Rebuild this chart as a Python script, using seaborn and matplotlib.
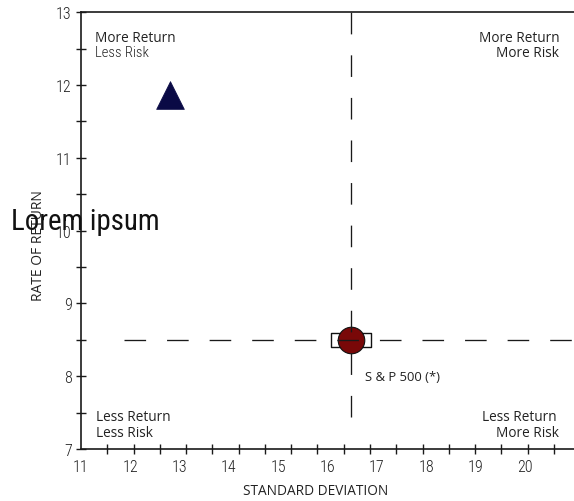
import numpy as np
import pandas as pd
import matplotlib
matplotlib.use("Agg")
import matplotlib.pyplot as plt
from matplotlib.path import Path
import seaborn as sns

# ---- data ----
fund_names = ["Fund"]
fund_risk = [12.8]
fund_return = [11.87]

index_names = ["S & P 500 (*)"]
index_risk = [16.47]
index_return = [8.5]

x_tick_values = [11, 12, 13, 14, 15, 16, 17, 18, 19, 20]
x_tick_labels = ["11", "12", "13", "14", "15", "16", "17", "18", "19", "20"]
y_tick_values = [7, 8, 9, 10, 11, 12, 13]
y_tick_labels = ["7", "8", "9", "10", "11", "12", "13"]

sns.set_style("white")
SANS = ["Open Sans", "DejaVu Sans"]
COND = ["Roboto Condensed", "DejaVu Sans"]
plt.rcParams["font.family"] = SANS
plt.rcParams["lines.scale_dashes"] = False

W, H = 574, 502
fig = plt.figure(figsize=(W / 100, H / 100), dpi=100)
ax_l, ax_r, ax_t, ax_b = 81, 574, 13.3, 450
ax = fig.add_axes([ax_l / W, 1 - ax_b / H, (ax_r - ax_l) / W, (ax_b - ax_t) / H])

def fx(px):
    return px / W

def fy(py):
    return 1 - py / H

fund_df = pd.DataFrame({"name": fund_names, "risk": fund_risk, "ret": fund_return})
index_df = pd.DataFrame({"name": index_names, "risk": index_risk, "ret": index_return})

# rectangle marker behind S&P point
rect = Path([(-1.45, -0.5), (1.45, -0.5), (1.45, 0.5), (-1.45, 0.5), (-1.45, -0.5)],
            [Path.MOVETO, Path.LINETO, Path.LINETO, Path.LINETO, Path.CLOSEPOLY])
sns.scatterplot(data=index_df, x="risk", y="ret", marker=rect, s=840, color="white",
                edgecolor="#111111", linewidth=1.0, ax=ax, zorder=2, legend=False)
sns.scatterplot(data=index_df, x="risk", y="ret", marker="o", s=365, color="#790808",
                edgecolor="#111111", linewidth=0.8, ax=ax, zorder=3, legend=False)
sns.scatterplot(data=fund_df, x="risk", y="ret", marker="^", s=400, color="#0a0a45",
                edgecolor="#0a0a45", linewidth=0.5, ax=ax, zorder=3, legend=False)

dash = (0, (15.55, 15.1))
ax.axvline(index_risk[0], ymin=(ax_b - 418) / (ax_b - ax_t), ymax=1, color="#1a1a1a",
           lw=0.95, linestyle=dash, zorder=4)
ax.axhline(index_return[0], xmin=(124 - ax_l) / (ax_r - ax_l), xmax=1, color="#1a1a1a",
           lw=0.95, linestyle=dash, zorder=4)

ax.set_xlim(11, 21)
ax.set_ylim(7, 13)

for s in ["left", "bottom", "top"]:
    ax.spines[s].set_visible(True)
    ax.spines[s].set_linewidth(1.2)
    ax.spines[s].set_color("#1a1a1a")
ax.spines["right"].set_visible(False)

ax.set_xticks(x_tick_values)
ax.set_xticklabels(x_tick_labels, fontfamily=COND, fontsize=11.5, fontweight="light",
                   color="#222222")
ax.set_xticks([11 + k * 0.533 for k in range(19)], minor=True)
ax.set_yticks(y_tick_values)
ax.set_yticklabels(y_tick_labels, fontfamily=COND, fontsize=11.5, fontweight="light",
                   color="#222222")
ax.set_yticks([v + 0.5 for v in y_tick_values[:-1]], minor=True)
ax.tick_params(axis="x", which="major", length=0, pad=7)
ax.tick_params(axis="x", which="minor", direction="inout", length=7.5, width=1.0,
               color="#1a1a1a", bottom=True)
ax.tick_params(axis="y", which="both", direction="inout", length=7.5, width=1.0,
               color="#1a1a1a", pad=3, left=True)

ax.set_xlabel("")
ax.set_ylabel("")
tc = "#222222"
fig.text(fx(316), fy(495), "STANDARD DEVIATION", ha="center", va="baseline",
         fontsize=9.8, color=tc)
fig.text(fx(39), fy(246), "RATE OF RETURN", ha="center", va="center", rotation=90,
         fontsize=10.0, color=tc)

fs_q = 9.8
# quadrant labels
fig.text(fx(95), fy(42.3), "More Return", ha="left", va="baseline", fontsize=fs_q, color=tc)
fig.text(fx(95), fy(56.7), "Less Risk", ha="left", va="baseline", fontsize=10.5,
         fontfamily=COND, fontweight="light", color=tc)
fig.text(fx(560), fy(42), "More Return", ha="right", va="baseline", fontsize=fs_q, color=tc)
fig.text(fx(559), fy(57.3), "More Risk", ha="right", va="baseline", fontsize=fs_q, color=tc)
fig.text(fx(95.5), fy(420.7), "Less Return", ha="left", va="baseline", fontsize=fs_q, color=tc)
fig.text(fx(95.5), fy(436.7), "Less Risk", ha="left", va="baseline", fontsize=fs_q, color=tc)
fig.text(fx(557), fy(420.7), "Less Return", ha="right", va="baseline", fontsize=fs_q, color=tc)
fig.text(fx(559), fy(436.7), "More Risk", ha="right", va="baseline", fontsize=fs_q, color=tc)

fig.text(fx(365), fy(381), index_names[0], ha="left", va="baseline", fontsize=9.4, color=tc)

fig.text(fx(11), fy(230.5), "Lorem ipsum", ha="left", va="baseline", fontsize=20.8,
         fontfamily=COND, color="#111111")

fig.savefig("out.png", dpi=100)
